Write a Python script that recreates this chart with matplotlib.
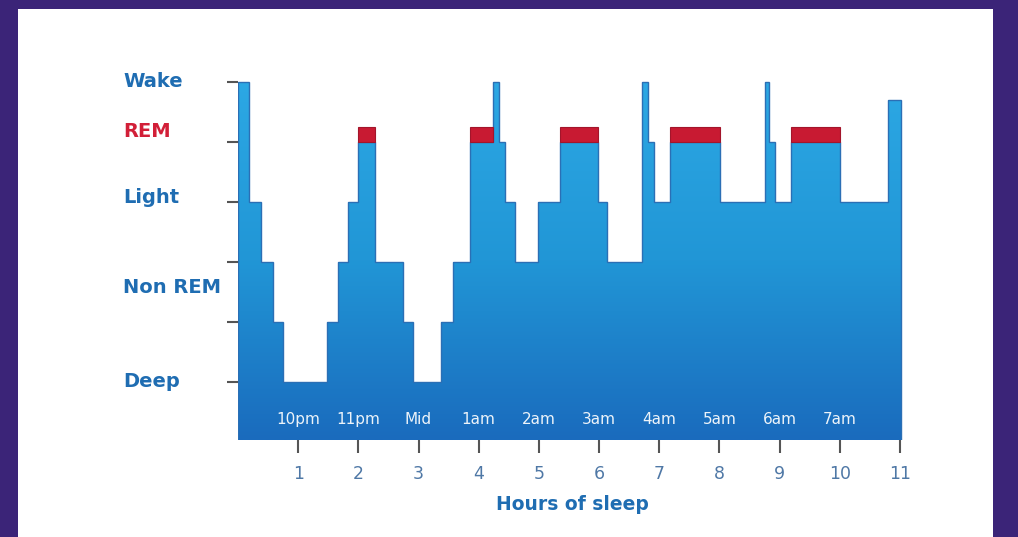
import numpy as np
import matplotlib
matplotlib.use('Agg')
import matplotlib.pyplot as plt
from matplotlib.patches import Polygon, Rectangle
from matplotlib.colors import LinearSegmentedColormap

# step edges (hours) and sleep stage level for each step
edges = [0, 0.18, 0.38, 0.58, 0.75, 1.48, 1.66, 1.83, 1.99, 2.28, 2.74, 2.91,
         3.37, 3.57, 3.85, 4.24, 4.34, 4.44, 4.60, 4.98, 5.35, 5.98, 6.13,
         6.71, 6.81, 6.91, 7.18, 8.01, 8.75, 8.82, 8.92, 9.19, 10.0, 10.80, 11.02]
levels = [5, 3, 2, 1, 0, 1, 2, 3, 4, 2, 1, 0,
          1, 2, 4, 5, 4, 3, 2, 3, 4, 3, 2,
          5, 4, 3, 4, 3, 5, 4, 3, 4, 3, 4.7]

# REM blocks on top of the light-sleep steps
rem_start = [1.99, 3.85, 5.35, 7.18, 9.19]
rem_end = [2.28, 4.24, 5.98, 8.01, 10.0]
rem_height = 0.25

hours = [1, 2, 3, 4, 5, 6, 7, 8, 9, 10, 11]
clock = ['10pm', '11pm', 'Mid', '1am', '2am', '3am', '4am', '5am', '6am', '7am']

stage_names = ['Wake', 'REM', 'Light', 'Non REM', 'Deep']
stage_y = [5, 4.17, 3.08, 1.57, 0]
stage_colors = ['#1f6db2', '#d21f38', '#1f6db2', '#1f6db2', '#1f6db2']

base = -0.97
top = 5.2

fig = plt.figure(figsize=(10.18, 5.37), dpi=100)
fig.patch.set_facecolor('#3b2478')
bg = fig.add_axes([18 / 1018, 0, 975 / 1018, 528 / 537])
bg.set_facecolor('white')
bg.set_xticks([])
bg.set_yticks([])
for sp in bg.spines.values():
    sp.set_visible(False)

ax = fig.add_axes([238 / 1018, 97 / 537, 665 / 1018, 370 / 537])
ax.patch.set_alpha(0)

# gradient fill clipped to the step outline
xs = np.repeat(edges, 2)[1:-1]
ys = np.repeat(levels, 2)
verts = [(edges[0], base)] + list(zip(xs, ys)) + [(edges[-1], base)]
poly = Polygon(verts, closed=True, facecolor='none', edgecolor='none')
ax.add_patch(poly)
cmap = LinearSegmentedColormap.from_list('sleep', ['#1a6bbd', '#2196d6', '#2ca8e4'])
grad = np.linspace(0, 1, 256).reshape(-1, 1)
im = ax.imshow(grad, cmap=cmap, origin='lower', aspect='auto',
               extent=[0, edges[-1], base, 5], zorder=1)
im.set_clip_path(poly)
ax.set_xlim(0, 11.05)
ax.set_ylim(base, top)

ax.stairs(levels, edges, baseline=base, color='#2b6fb5', lw=1.0, zorder=2)

for s, e in zip(rem_start, rem_end):
    ax.add_patch(Rectangle((s, 4), e - s, rem_height, facecolor='#c81a32',
                           edgecolor='#a3152b', lw=0.8, zorder=3))

for h, c in zip(hours, clock):
    ax.text(h, -0.63, c, color='white', fontsize=11, ha='center', va='center',
            alpha=0.92, zorder=4)

for name, y, col in zip(stage_names, stage_y, stage_colors):
    ax.text(-1.91, y, name, color=col, fontsize=14, fontweight='bold',
            ha='left', va='center', clip_on=False)

ax.text(5.55, -2.05, 'Hours of sleep', color='#1f6db2', fontsize=13.5,
        fontweight='bold', ha='center', va='center', clip_on=False)

ax.set_xticks(hours)
ax.set_xticklabels([str(h) for h in hours])
ax.set_yticks(range(6))
ax.set_yticklabels([])
ax.tick_params(axis='x', length=9, width=1.5, color='#555555', pad=9,
               labelsize=12.5, labelcolor='#4f78a6')
ax.tick_params(axis='y', length=8, width=1.5, color='#555555')
for sp in ax.spines.values():
    sp.set_visible(False)

fig.savefig('out.png', dpi=100, facecolor=fig.get_facecolor())
